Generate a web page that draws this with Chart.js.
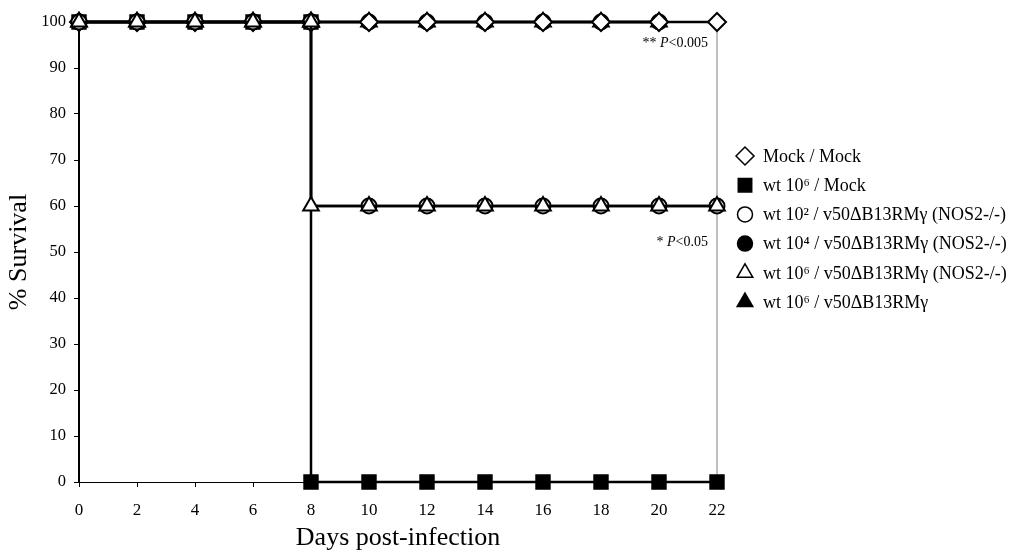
<!DOCTYPE html>
<html><head><meta charset="utf-8">
<script src="https://cdn.jsdelivr.net/npm/chart.js@4"></script>
<style>html,body{margin:0;padding:0;background:#fff}#wrap{width:1028px;height:554px}</style>
</head><body><div id="wrap"><canvas id="c" width="1028" height="554"></canvas></div>
<script>
// ---- data ----
const days = [0, 2, 4, 6, 8, 8, 10, 12, 14, 16, 18, 20, 22];
const mockMock   = [100,100,100,100,100,100,100,100,100,100,100,100,100];
const wt6Mock    = [100,100,100,100,100,  0,  0,  0,  0,  0,  0,  0,  0];
const wt2Nos2    = [100,100,100,100,100, 60, 60, 60, 60, 60, 60, 60, 60];
const wt4Nos2    = [100,100,100,100,100,100,100,100,100,100,100,100,null];
const wt6Nos2    = [100,100,100,100,100, 60, 60, 60, 60, 60, 60, 60, 60];
const wt6Gamma   = [100,100,100,100,100,100,100,100,100,100,100,100,null];
const seriesLabels = [
  'Mock / Mock',
  'wt 10\u2076 / Mock',
  'wt 10\u00B2 / v50\u0394B13RM\u03B3 (NOS2-/-)',
  'wt 10\u2074 / v50\u0394B13RM\u03B3 (NOS2-/-)',
  'wt 10\u2076 / v50\u0394B13RM\u03B3 (NOS2-/-)',
  'wt 10\u2076 / v50\u0394B13RM\u03B3'
];
const xTicks = [0, 2, 4, 6, 8, 10, 12, 14, 16, 18, 20, 22];
const yTicks = [0, 10, 20, 30, 40, 50, 60, 70, 80, 90, 100];
const pStars = ['** ', '* '];
const pValues = ['<0.005', '<0.05'];
const pLevels = [100, 60];

// ---- styling ----
const FONT = "'Liberation Serif', 'Times New Roman', serif";
const pOffsets = [21, 36];
const styles = [
  {pointStyle: 'rectRot', radius: 9, fill: '#fff', order: 3},
  {pointStyle: 'rect', radius: 9.5, fill: '#000', order: 4},
  {pointStyle: 'circle', radius: 7.5, fill: '#fff', order: 2},
  {pointStyle: 'circle', radius: 7.5, fill: '#000', order: 5},
  {pointStyle: 'triangle', radius: 9, fill: '#fff', order: 1},
  {pointStyle: 'triangle', radius: 9, fill: '#000', order: 6}
];
const seriesData = [mockMock, wt6Mock, wt2Nos2, wt4Nos2, wt6Nos2, wt6Gamma];

const datasets = seriesData.map((vals, i) => ({
  label: seriesLabels[i],
  data: vals.map((v, j) => ({x: days[j], y: v})),
  borderColor: '#000',
  borderWidth: 2.5,
  pointStyle: styles[i].pointStyle,
  pointRadius: (i === 2) ? (ctx => (ctx.dataIndex === 5 ? 0 : styles[i].radius)) : styles[i].radius,
  pointBackgroundColor: styles[i].fill,
  pointBorderColor: '#000',
  pointBorderWidth: 2,
  order: styles[i].order,
  clip: false,
  spanGaps: false,
  tension: 0,
  fill: false
}));

const extras = {
  id: 'extras',
  beforeDatasetsDraw(chart) {
    const {ctx, chartArea} = chart;
    ctx.save();
    ctx.strokeStyle = '#aaaaaa';
    ctx.lineWidth = 1.5;
    ctx.beginPath();
    ctx.moveTo(chartArea.right, chartArea.top);
    ctx.lineTo(chartArea.right, chartArea.bottom);
    ctx.stroke();
    ctx.restore();
  },
  afterDraw(chart) {
    const {ctx, scales} = chart;
    ctx.save();
    ctx.fillStyle = '#000';
    ctx.textBaseline = 'middle';
    const fs = 14;
    pLevels.forEach((lvl, k) => {
      const xr = scales.x.getPixelForValue(22) - 9;
      const y = scales.y.getPixelForValue(lvl) + pOffsets[k];
      ctx.font = fs + 'px ' + FONT;
      const wRest = ctx.measureText(pValues[k]).width;
      const wStars = ctx.measureText(pStars[k]).width;
      ctx.font = 'italic ' + fs + 'px ' + FONT;
      const wP = ctx.measureText('P').width;
      let x = xr - wRest - wP - wStars;
      ctx.font = fs + 'px ' + FONT; ctx.textAlign = 'left';
      ctx.fillText(pStars[k], x, y); x += wStars;
      ctx.font = 'italic ' + fs + 'px ' + FONT; ctx.fillText('P', x, y); x += wP;
      ctx.font = fs + 'px ' + FONT; ctx.fillText(pValues[k], x, y);
    });
    const lx = 745, ly0 = 156, dy = 29.2;
    chart.data.datasets.forEach((ds, i) => {
      const y = ly0 + i * dy;
      ctx.fillStyle = styles[i].fill;
      ctx.strokeStyle = '#000';
      ctx.lineWidth = 1.5;
      Chart.helpers.drawPoint(ctx, {pointStyle: styles[i].pointStyle, radius: styles[i].radius, borderWidth: 1.5, rotation: 0}, lx, y);
      ctx.fillStyle = '#000';
      ctx.font = '18px ' + FONT;
      ctx.textAlign = 'left';
      ctx.textBaseline = 'middle';
      ctx.fillText(ds.label, 763, y + 1);
    });
    ctx.restore();
  }
};

new Chart(document.getElementById('c'), {
  type: 'line',
  data: {datasets},
  options: {
    responsive: false,
    animation: false,
    layout: {padding: {top: 22, right: 311, left: 0, bottom: 0}},
    plugins: {legend: {display: false}, tooltip: {enabled: false}},
    scales: {
      x: {
        type: 'linear', min: 0, max: 22,
        afterBuildTicks: s => { s.ticks = xTicks.map(v => ({value: v})); },
        afterFit: s => { s.height = 72; },
        grid: {display: true, drawOnChartArea: false, drawTicks: true, tickLength: 5, color: '#000', lineWidth: 1},
        border: {display: true, color: '#000', width: 1},
        ticks: {font: {family: FONT, size: 17}, color: '#000', padding: 13, maxRotation: 0},
        title: {display: true, text: 'Days post-infection', font: {family: FONT, size: 26}, color: '#000', padding: {top: 0, bottom: 0}}
      },
      y: {
        type: 'linear', min: 0, max: 100,
        afterBuildTicks: s => { s.ticks = yTicks.map(v => ({value: v})); },
        afterFit: s => { s.width = 79; },
        grid: {display: true, drawOnChartArea: false, drawTicks: true, tickLength: 5, color: '#000', lineWidth: 1},
        border: {display: true, color: '#000', width: 2},
        ticks: {font: {family: FONT, size: 16.5}, color: '#000', padding: 8},
        title: {display: true, text: '% Survival', font: {family: FONT, size: 26}, color: '#000', padding: {top: 4, bottom: 0}}
      }
    }
  },
  plugins: [extras]
});
</script>
</body></html>
